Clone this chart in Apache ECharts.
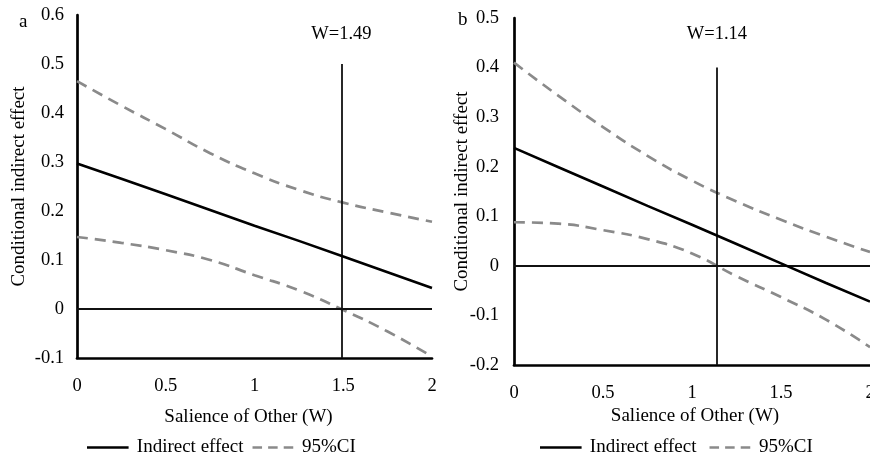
<!DOCTYPE html>
<html>
<head>
<meta charset="utf-8">
<script src="https://cdn.jsdelivr.net/npm/echarts@6/dist/echarts.min.js"></script>
<style>
html,body{margin:0;padding:0;background:#fff;overflow:hidden;}
#chart{width:870px;height:455px;}
</style>
</head>
<body>
<div id="chart"></div>
<script>
// ---- data ----
const wValues = [0, 0.25, 0.5, 0.75, 1, 1.25, 1.5, 1.75, 2];
const xTicks = [0, 0.5, 1, 1.5, 2];

// panel a
const effectA = [0.297, 0.266, 0.234, 0.202, 0.170, 0.139, 0.107, 0.075, 0.043];
const upperA  = [0.465, 0.415, 0.367, 0.318, 0.277, 0.243, 0.217, 0.197, 0.178];
const lowerA  = [0.147, 0.135, 0.120, 0.100, 0.069, 0.038, -0.002, -0.046, -0.097];
const wA = 1.49;
const yTicksA = [-0.1, 0, 0.1, 0.2, 0.3, 0.4, 0.5, 0.6];
const markTopA = 0.5;

// panel b
const effectB = [0.238, 0.199, 0.160, 0.121, 0.083, 0.044, 0.005, -0.034, -0.072];
const upperB  = [0.410, 0.343, 0.280, 0.222, 0.172, 0.130, 0.093, 0.059, 0.028];
const lowerB  = [0.088, 0.085, 0.072, 0.054, 0.025, -0.021, -0.063, -0.108, -0.164];
const wB = 1.14;
const yTicksB = [-0.2, -0.1, 0, 0.1, 0.2, 0.3, 0.4, 0.5];
const markTopB = 0.4;

const seriesNames = ['Indirect effect', '95%CI'];
const xName = 'Salience of Other (W)';
const yName = 'Conditional indirect effect';
const panelLabels = ['a', 'b'];

// ---- chart ----
const FONT = 'Liberation Serif';
const BLACK = '#000';
const GREY = '#8a8a8a';
const pairs = arr => wValues.map((w, i) => [w, arr[i]]);

function xAxis(gridIndex, gap, namePad) {
  return {
    type: 'value', gridIndex, min: xTicks[0], max: xTicks[xTicks.length - 1], interval: 0.5,
    name: xName, nameLocation: 'middle', nameGap: gap, nameMoveOverlap: false,
    nameTextStyle: { fontFamily: FONT, fontSize: 19, color: BLACK, padding: namePad },
    axisLine: { show: true, onZero: false, lineStyle: { color: BLACK, width: 2.7 } },
    axisTick: { show: false }, splitLine: { show: false },
    axisLabel: { fontFamily: FONT, fontSize: 18.5, color: BLACK, margin: 18.5 }
  };
}
function yAxis(gridIndex, ticks, gap, margin) {
  return {
    type: 'value', gridIndex, min: ticks[0], max: ticks[ticks.length - 1], interval: 0.1,
    name: yName, nameLocation: 'middle', nameGap: gap, nameMoveOverlap: false,
    nameTextStyle: { fontFamily: FONT, fontSize: 19, color: BLACK },
    axisLine: { show: true, onZero: false, lineStyle: { color: BLACK, width: 2.7 } },
    axisTick: { show: false }, splitLine: { show: false },
    axisLabel: { fontFamily: FONT, fontSize: 18.5, color: BLACK, margin: margin,
      formatter: v => String(+v.toFixed(1)) }
  };
}
function panelSeries(idx, effect, upper, lower, w, yMin, markTop, labelDist) {
  return [
    {
      name: seriesNames[0], type: 'line', xAxisIndex: idx, yAxisIndex: idx,
      data: pairs(effect), symbol: 'none', z: 5,
      lineStyle: { color: BLACK, width: 2.6 }, itemStyle: { color: BLACK },
      markLine: {
        silent: true, symbol: ['none', 'none'], animation: false,
        data: [
          [{ coord: [w, yMin] }, { coord: [w, markTop],
            label: { show: true, position: 'end', distance: labelDist, formatter: 'W=' + w,
              fontFamily: FONT, fontSize: 18.5, color: BLACK } }],
          { yAxis: 0, label: { show: false } }
        ],
        lineStyle: { color: '#111', width: 1.8, type: 'solid' },
        label: { show: false }
      }
    },
    {
      name: seriesNames[1], type: 'line', xAxisIndex: idx, yAxisIndex: idx,
      data: pairs(upper), symbol: 'none', smooth: 0.5,
      lineStyle: { color: GREY, width: 2.7, type: [11, 7] }, itemStyle: { color: GREY }
    },
    {
      name: seriesNames[1], type: 'line', xAxisIndex: idx, yAxisIndex: idx,
      data: pairs(lower), symbol: 'none', smooth: 0.5,
      lineStyle: { color: GREY, width: 2.7, type: [11, 7] }, itemStyle: { color: GREY }
    }
  ];
}
const solidIcon = 'path://M0,0H48V3H0Z';
const dashIcon = 'path://M0,0H11V3H0Z M18,0H29V3H18Z M36,0H47V3H36Z';
function legend(left, gap) {
  return {
    left: left, top: 438, padding: 0, itemWidth: 48, itemHeight: 2.6, itemGap: gap,
    data: [
      { name: seriesNames[0], icon: solidIcon, itemStyle: { color: BLACK } },
      { name: seriesNames[1], icon: dashIcon, itemStyle: { color: GREY } }
    ],
    selectedMode: false,
    textStyle: { fontFamily: FONT, fontSize: 19, color: BLACK }
  };
}

const chart = echarts.init(document.getElementById('chart'), null, { renderer: 'canvas', width: 870, height: 455 });
chart.setOption({
  animation: false,
  backgroundColor: '#fff',
  title: [
    { text: panelLabels[0], left: 14, top: 8, textStyle: { fontFamily: FONT, fontSize: 19, fontWeight: 'normal', color: BLACK } },
    { text: panelLabels[1], left: 453, top: 6, textStyle: { fontFamily: FONT, fontSize: 19, fontWeight: 'normal', color: BLACK } }
  ],
  grid: [
    { left: 77, right: 438, top: 15, bottom: 97, containLabel: false, outerBoundsMode: 'none' },
    { left: 514, right: 0, top: 18, bottom: 90, containLabel: false, outerBoundsMode: 'none' }
  ],
  xAxis: [xAxis(0, 50, [0, 12, 0, 0]), xAxis(1, 42, [0, 0, 0, 6])],
  yAxis: [yAxis(0, yTicksA, 48, 13), yAxis(1, yTicksB, 42, 15)],
  legend: [legend(87, 9), legend(540, 13)],
  series: [
    ...panelSeries(0, effectA, upperA, lowerA, wA, yTicksA[0], markTopA, 20),
    ...panelSeries(1, effectB, upperB, lowerB, wB, yTicksB[0], markTopB, 24)
  ]
});
</script>
</body>
</html>
